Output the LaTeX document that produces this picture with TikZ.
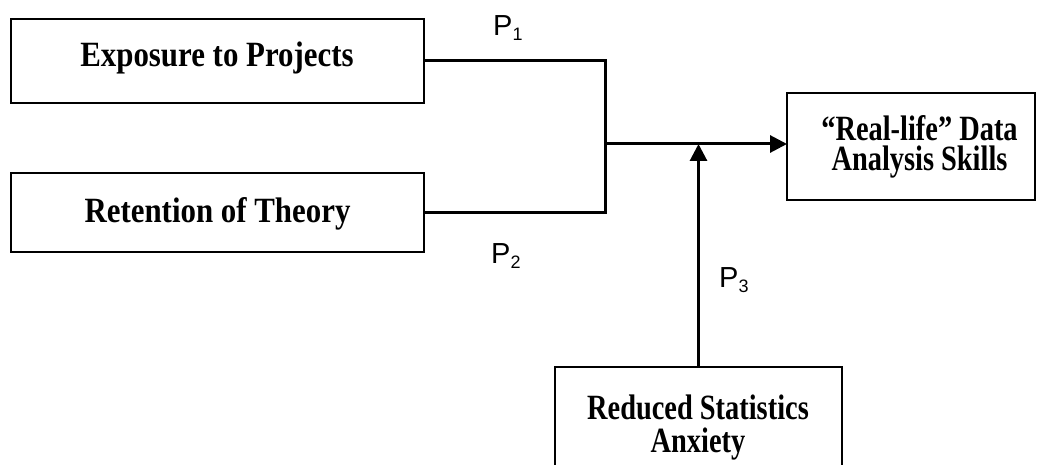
\documentclass[tikz,border=0pt]{standalone}
\usepackage{fontspec}
\setmainfont{Liberation Serif}
\newfontfamily\boxfontA[FakeStretch=0.87]{Liberation Serif}
\newfontfamily\boxfontB[FakeStretch=0.80]{Liberation Serif}
\newfontfamily\pfont{Liberation Sans}
\usetikzlibrary{arrows.meta}
\newcommand{\plab}[1]{{\pfont\fontsize{29}{29}\selectfont P}\raisebox{-5pt}{\pfont\fontsize{18}{18}\selectfont #1}}
\tikzset{
  boxnode/.style={draw, line width=2pt, inner sep=0pt, outer sep=0pt},
  bigtxt/.style={font=\boxfontA\bfseries\fontsize{35.5}{35.5}\selectfont, anchor=base, inner sep=0pt},
  smalltxt/.style={font=\boxfontB\bfseries\fontsize{35.5}{30}\selectfont, anchor=base, inner sep=0pt, align=center},
  plabel/.style={anchor=base west, inner sep=0pt},
  conn/.style={line width=3pt},
  arr/.style={line width=3pt, -{Triangle[length=17pt,width=17pt]}}
}
\begin{document}
\begin{tikzpicture}[x=1pt,y=-1pt]
\clip (0,0) rectangle (1037,465);
\fill[white] (0,0) rectangle (1037,465);
% boxes
\node[boxnode, minimum width=413pt, minimum height=84pt] (b1) at (217.5,61) {};
\node[boxnode, minimum width=413pt, minimum height=79pt] (b2) at (217.5,212.5) {};
\node[boxnode, minimum width=248pt, minimum height=107pt] (b3) at (911,146.5) {};
\node[boxnode, minimum width=287pt, minimum height=120pt, anchor=north] (b4) at (698.5,367) {};
% texts (base anchor = last line's baseline)
\node[bigtxt] (t1) at (217,67) {Exposure to Projects};
\node[bigtxt] (t2) at (217.5,223) {Retention of Theory};
\node[smalltxt] (t3) at (919.5,171) {“Real-life” Data\\Analysis Skills};
\node[smalltxt, font=\boxfontB\bfseries\fontsize{35.5}{33}\selectfont] (t4) at (698,452) {Reduced Statistics\\Anxiety};
% connectors
\coordinate (j) at (605,144);
\draw[conn] (b1.east) -| (j);
\draw[conn] (b2.east) -| (j);
\draw[arr] (j) -- (j -| b3.west);
\draw[arr] (b4.north) -- (b4.north |- j);
% labels
\node[plabel] (p1) at (493,36) {\plab{1}};
\node[plabel] (p2) at (491,264) {\plab{2}};
\node[plabel] (p3) at (719,288) {\plab{3}};
\end{tikzpicture}
\end{document}
